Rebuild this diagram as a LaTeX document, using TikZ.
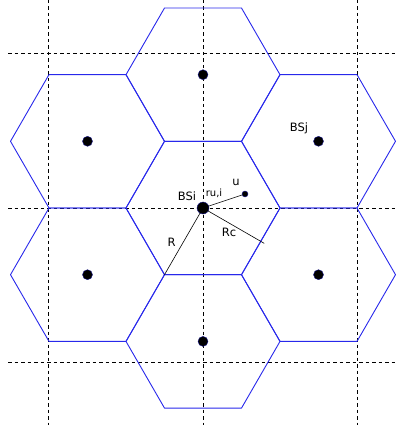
\documentclass[tikz,border=0pt]{standalone}
\usepackage{fontspec}
\setmainfont{DejaVu Sans}
\usepackage{tikz}
\usetikzlibrary{calc,positioning}
\definecolor{cellblue}{RGB}{40,40,235}

\tikzset{
  hexline/.style={cellblue,line width=0.9pt,line join=round},
  gridline/.style={black,line width=1pt,dash pattern=on 3.5pt off 3pt},
  bsdot/.style={circle,fill=black,draw=cellblue!60!black,line width=0.4pt,minimum size=10pt,inner sep=0pt},
  lbl/.style={font=\fontsize{11.5}{13}\selectfont,inner sep=0pt},
  radius line/.style={black,line width=0.6pt}
}

\begin{document}
\begin{tikzpicture}[x=1pt,y=-1pt,line cap=butt]
    \useasboundingbox (0,0) rectangle (398,425);

    % dashed grid
    \foreach \gx in {48,203,357} {\draw[gridline] (\gx,0) -- (\gx,425);}
    \foreach \gy in {54,208,362} {\draw[gridline] (8,\gy) -- (398,\gy);}

    % cell centres
    \coordinate (C0) at (203,208);
    \coordinate (C1) at (203,74.7);
    \coordinate (C2) at (318.5,141.3);
    \coordinate (C3) at (318.5,274.7);
    \coordinate (C4) at (203,341.4);
    \coordinate (C5) at (87.5,274.7);
    \coordinate (C6) at (87.5,141.3);

    % hexagonal cells
    \foreach \c in {C0,C1,C2,C3,C4,C5,C6} {
      \draw[hexline] ($(\c)+(0:77)$) -- ($(\c)+(60:77)$) -- ($(\c)+(120:77)$)
        -- ($(\c)+(180:77)$) -- ($(\c)+(240:77)$) -- ($(\c)+(300:77)$) -- cycle;
    }

    % base stations
    \foreach \c in {C1,C2,C3,C4,C5,C6} {\node[bsdot] (BS\c) at (\c) {};}
    \node[bsdot,minimum size=12pt] (BSi) at (C0) {};
    \node[bsdot,minimum size=6pt] (u) at (245,194) {};

    % distances
    \coordinate (Rend) at ($(C0)+(120:77)$);
    \coordinate (Rcend) at ($(C0)!1.06!($(C0)+(30:66.7)$)$);
    \draw[radius line] (BSi.center) -- (u);
    \draw[radius line] (BSi.center) -- (Rend);
    \draw[radius line] (BSi.center) -- (Rcend);

    % labels
    \node[lbl] (lBSi) at (187,196) {BSi};
    \node[lbl,font=\fontsize{10}{11}\selectfont] (lru) at (214,193) {ru,i};
    \node[lbl] (lu) at (236,182) {u};
    \node[lbl] (lR) at (171.5,242) {R};
    \node[lbl] (lRc) at (229,232) {Rc};
    \node[lbl] (lBSj) at (299,128) {BSj};
\end{tikzpicture}
\end{document}
